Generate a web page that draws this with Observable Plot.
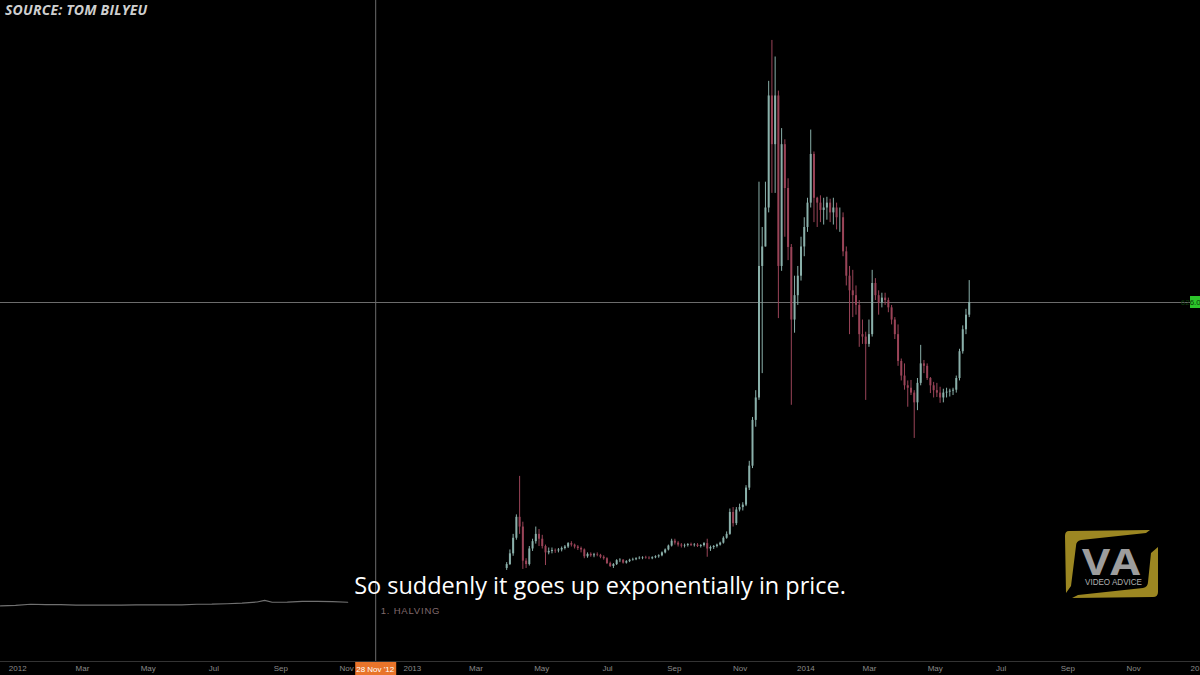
<!DOCTYPE html>
<html><head><meta charset="utf-8">
<script src="https://cdn.jsdelivr.net/npm/d3@7"></script>
<script src="https://cdn.jsdelivr.net/npm/@observablehq/plot@0.6"></script>
<style>
html,body{margin:0;padding:0;background:#000;}
#wrap{position:relative;width:1200px;height:675px;overflow:hidden;background:#000;}
#chart{position:absolute;left:0;top:0;}
#source{position:absolute;left:5px;top:0px;font:italic 700 14px "Open Sans",sans-serif;color:#cfcfcf;letter-spacing:0.2px;line-height:20px;}
#caption{position:absolute;left:0;width:1200px;top:572px;text-align:center;font:400 23.5px "Open Sans",sans-serif;color:#fff;line-height:26px;}
#logo{position:absolute;left:1060px;top:527px;}
</style></head><body>
<div id="wrap">
  <div id="chart"></div>
  <div id="source">SOURCE: TOM BILYEU</div>
  <div id="caption">So suddenly it goes up exponentially in price.</div>
  <svg id="logo" width="105" height="75" viewBox="1060 527 105 75">
    <path d="M1069,531 L1150,530 L1146,533 L1081,540 Q1076,541 1076,546 L1071,586 L1066,593 L1065,536 Q1065,531 1069,531 Z" fill="#9c8722"/>
    <path d="M1158,547 L1158,592 Q1158,597 1153,597 L1072,598 L1078,595 L1143,588 Q1148,587 1148,582 L1151,553 Z" fill="#9c8722"/>
    <text x="1082" y="575" font-family="'Open Sans',sans-serif" font-weight="700" font-size="36" fill="#9d9d9d" textLength="58" lengthAdjust="spacingAndGlyphs">VA</text>
    <text x="1085" y="585" font-family="'Liberation Sans',sans-serif" font-size="8.5" fill="#b0b0b0" textLength="57" lengthAdjust="spacingAndGlyphs">VIDEO ADVICE</text>
  </svg>
</div>
<script>
// ---- axis ticks ----
const tickDates = ["2012-01-01","2012-03-01","2012-05-01","2012-07-01","2012-09-01","2012-11-01","2013-01-01","2013-03-01","2013-05-01","2013-07-01","2013-09-01","2013-11-01","2014-01-01","2014-03-01","2014-05-01","2014-07-01","2014-09-01","2014-11-01","2015-01-01"];
const tickLabels = ["2012","Mar","May","Jul","Sep","Nov","2013","Mar","May","Jul","Sep","Nov","2014","Mar","May","Jul","Sep","Nov","2015"];

// ---- 2012 price (USD), closes ----
const dates2012 = ["2011-12-16","2011-12-30","2012-01-13","2012-01-27","2012-02-10","2012-02-24","2012-03-09","2012-03-23","2012-04-06","2012-04-20","2012-05-04","2012-05-18","2012-06-01","2012-06-15","2012-06-29","2012-07-13","2012-07-27","2012-08-10","2012-08-17","2012-08-24","2012-09-07","2012-09-21","2012-10-05","2012-10-19","2012-11-02"];
const closes2012 = [3.2,4.3,6.5,5.6,5.8,4.9,4.9,4.7,4.9,5.2,5.1,5.1,5.3,6.5,6.7,7.6,8.9,11.2,14.5,10.6,11.0,12.3,12.6,11.8,10.6];

// ---- 2013-2014 candles (3-day), USD ----
const candleDates = ["2013-03-28","2013-03-31","2013-04-03","2013-04-06","2013-04-09","2013-04-12","2013-04-15","2013-04-18","2013-04-21","2013-04-24","2013-04-27","2013-04-30",
"2013-05-03","2013-05-06","2013-05-09","2013-05-12","2013-05-15","2013-05-18","2013-05-21","2013-05-24","2013-05-27","2013-05-30",
"2013-06-02","2013-06-05","2013-06-08","2013-06-11","2013-06-14","2013-06-17","2013-06-20","2013-06-23","2013-06-26","2013-06-29",
"2013-07-02","2013-07-05","2013-07-08","2013-07-11","2013-07-14","2013-07-17","2013-07-20","2013-07-23","2013-07-26","2013-07-29",
"2013-08-01","2013-08-04","2013-08-07","2013-08-10","2013-08-13","2013-08-16","2013-08-19","2013-08-22","2013-08-25","2013-08-28","2013-08-31",
"2013-09-03","2013-09-06","2013-09-09","2013-09-12","2013-09-15","2013-09-18","2013-09-21","2013-09-24","2013-09-27","2013-09-30",
"2013-10-03","2013-10-06","2013-10-09","2013-10-12","2013-10-15","2013-10-18","2013-10-21","2013-10-24","2013-10-27","2013-10-30",
"2013-11-02","2013-11-05","2013-11-08","2013-11-11","2013-11-14","2013-11-17","2013-11-20","2013-11-23","2013-11-26","2013-11-29",
"2013-12-02","2013-12-05","2013-12-08","2013-12-11","2013-12-14","2013-12-17","2013-12-20","2013-12-23","2013-12-26","2013-12-29",
"2014-01-01","2014-01-04","2014-01-07","2014-01-10","2014-01-13","2014-01-16","2014-01-19","2014-01-22","2014-01-25","2014-01-28","2014-01-31",
"2014-02-03","2014-02-06","2014-02-09","2014-02-12","2014-02-15","2014-02-18","2014-02-21","2014-02-24","2014-02-27",
"2014-03-02","2014-03-05","2014-03-08","2014-03-11","2014-03-14","2014-03-17","2014-03-20","2014-03-23","2014-03-26","2014-03-29",
"2014-04-01","2014-04-04","2014-04-07","2014-04-10","2014-04-13","2014-04-16","2014-04-19","2014-04-22","2014-04-25","2014-04-28",
"2014-05-01","2014-05-04","2014-05-07","2014-05-10","2014-05-13","2014-05-16","2014-05-19","2014-05-22","2014-05-25","2014-05-28","2014-05-31"];
const opens = [80,88,110,142,185,165,95,88,120,135,150,140,
125,112,115,117,116,118,121,124,131,128,
124,121,118,104,109,106,108,107,103,100,
90,84,88,96,97,91,94,97,98,100,
101,102,101,100,102,104,106,112,118,126,136,
132,128,126,127,129,127,128,125,127,131,
120,123,125,128,132,142,150,195,172,200,
205,210,245,290,384,430,700,740,820,1050,
950,1050,700,950,860,739,590,640,680,740,
780,830,930,840,830,815,820,830,810,820,800,
800,730,680,650,640,620,560,555,540,
560,665,640,625,635,630,615,590,560,505,
475,455,450,440,420,460,500,495,470,455,
445,440,430,440,442,444,446,470,525,570,600];
const highs = [92,118,150,190,269,175,100,125,140,165,160,148,
128,122,122,120,121,124,127,133,135,130,
127,124,120,112,112,111,112,109,106,102,
93,90,98,100,98,96,99,101,102,104,
104,105,104,104,106,108,114,120,128,140,140,
135,131,130,131,132,131,131,129,133,140,
126,127,130,134,145,155,202,205,205,212,
215,250,300,390,445,873,780,873,1080,1164,
1130,1060,983,960,880,745,680,700,760,800,
840,980,935,842,845,840,842,838,840,830,820,
810,740,700,692,660,630,590,565,590,
692,675,650,645,645,635,620,595,580,510,
500,465,466,445,470,538,507,500,472,462,
460,452,448,450,448,450,475,530,578,612,671];
const lows = [76,86,105,138,150,78,80,85,115,130,125,120,
86,108,110,111,112,114,118,121,124,120,
117,112,100,101,103,102,104,100,97,88,
82,80,86,92,89,89,92,95,96,98,
98,99,98,98,100,101,104,110,116,124,128,
124,122,122,124,125,124,123,122,124,103,
115,119,122,126,130,140,148,165,168,196,
198,207,240,285,370,425,480,740,810,850,
850,593,690,760,712,415,563,620,670,720,
770,820,790,780,790,785,795,790,785,775,770,
720,660,560,595,600,534,540,425,534,
555,630,600,615,620,605,580,550,495,465,
446,411,435,347,404,455,480,466,439,430,
431,419,420,430,432,435,440,465,520,560,595];
const closes = [88,110,142,185,165,95,88,120,135,150,140,125,
112,115,117,116,118,121,124,131,128,124,
121,118,104,109,106,108,107,103,100,90,
84,88,96,97,91,94,97,98,100,101,
102,101,100,102,104,106,112,118,126,136,132,
128,126,127,129,127,128,125,127,131,120,
123,125,128,132,142,150,195,172,200,205,
210,245,290,384,430,700,740,820,1050,950,
1050,700,950,860,739,590,640,680,740,780,
830,930,840,830,815,820,830,810,820,800,800,
730,680,650,640,620,560,555,540,560,
665,640,625,635,630,615,590,560,505,475,
455,450,440,420,460,500,495,470,455,445,
440,430,440,442,444,446,470,525,570,600,626];

// ---- annotations ----
const halvingDate = "2012-11-28";
const halvingTag = "28 Nov '12";
const halvingText = "1. HALVING";
const crossPrice = 626;
const crossPriceLabel = "626.00";

// ---- build tables ----
const candles = candleDates.map((d, i) => ({date: new Date(d), open: opens[i], high: highs[i], low: lows[i], close: closes[i]}));
const up = candles.filter(c => c.close >= c.open);
const down = candles.filter(c => c.close < c.open);
const line2012 = dates2012.map((d, i) => ({date: new Date(d), close: closes2012[i]}));
const ticks = tickDates.map(d => new Date(d));
const labelByTime = new Map(ticks.map((t, i) => [+t, tickLabels[i]]));

const yMin = -111, yMax = 1246;
const upColor = "#8ab0aa", downColor = "#9a4458";

const chart = Plot.plot({
  width: 1200, height: 675,
  marginTop: 0, marginBottom: 14, marginLeft: 0, marginRight: 0,
  x: {type: "utc", domain: [new Date("2011-12-16"), new Date("2015-01-02")], axis: null},
  y: {domain: [yMin, yMax], axis: null},
  style: {background: "#000", color: "#8a8a8a", fontFamily: "'Liberation Sans', sans-serif", fontSize: "8px"},
  marks: [
    Plot.ruleY([yMin], {stroke: "#333"}),
    Plot.axisX(ticks, {tickFormat: d => labelByTime.get(+d), tickSize: 0, tickPadding: 4, fill: "#8a8a8a", fontSize: 8, anchor: "bottom"}),
    Plot.ruleX([new Date(halvingDate)], {stroke: "#6c6c6c", strokeWidth: 1}),
    Plot.ruleY([crossPrice], {stroke: "#6c6c6c", strokeWidth: 1}),
    Plot.line(line2012, {x: "date", y: "close", stroke: "#707070", strokeWidth: 1.2}),
    Plot.ruleX(up, {x: "date", y1: "low", y2: "high", stroke: upColor, strokeWidth: 1, dx: 1.6}),
    Plot.ruleX(down, {x: "date", y1: "low", y2: "high", stroke: downColor, strokeWidth: 1, dx: 1.6}),
    Plot.ruleX(up, {x: "date", y1: "open", y2: "close", stroke: upColor, strokeWidth: 2, dx: 1.6}),
    Plot.ruleX(down, {x: "date", y1: "open", y2: "close", stroke: downColor, strokeWidth: 2, dx: 1.6}),
    Plot.text([new Date(halvingDate)], {x: d => d, y: -8, text: () => halvingText, dx: 5, textAnchor: "start", fill: "#806a6d", fontSize: 9.5})
  ]
});
document.getElementById("chart").appendChild(chart);

// overlay labels positioned via the plot's scales
const xs = chart.scale("x"), ys = chart.scale("y");
const svg = d3.select(chart);
svg.selectAll("text").filter(function () { return this.textContent === halvingText; }).attr("letter-spacing", "0.8px");
const hx = xs.apply(new Date(halvingDate));
const yb = ys.apply(yMin);
const g = svg.append("g");
g.append("rect").attr("x", hx - 20).attr("y", yb + 1).attr("width", 41).attr("height", 14).attr("fill", "#e8742a");
g.append("text").attr("x", hx).attr("y", yb + 11).attr("text-anchor", "middle").attr("fill", "#fff").attr("font-size", 8).text(halvingTag);
const py = ys.apply(crossPrice);
g.append("rect").attr("x", 1190).attr("y", py - 6).attr("width", 12).attr("height", 12).attr("fill", "#2cc42a");
g.append("text").attr("x", 1193).attr("y", py + 3).attr("fill", "#0b3a0b").attr("font-size", 8).text(crossPriceLabel);
</script>
</body></html>
